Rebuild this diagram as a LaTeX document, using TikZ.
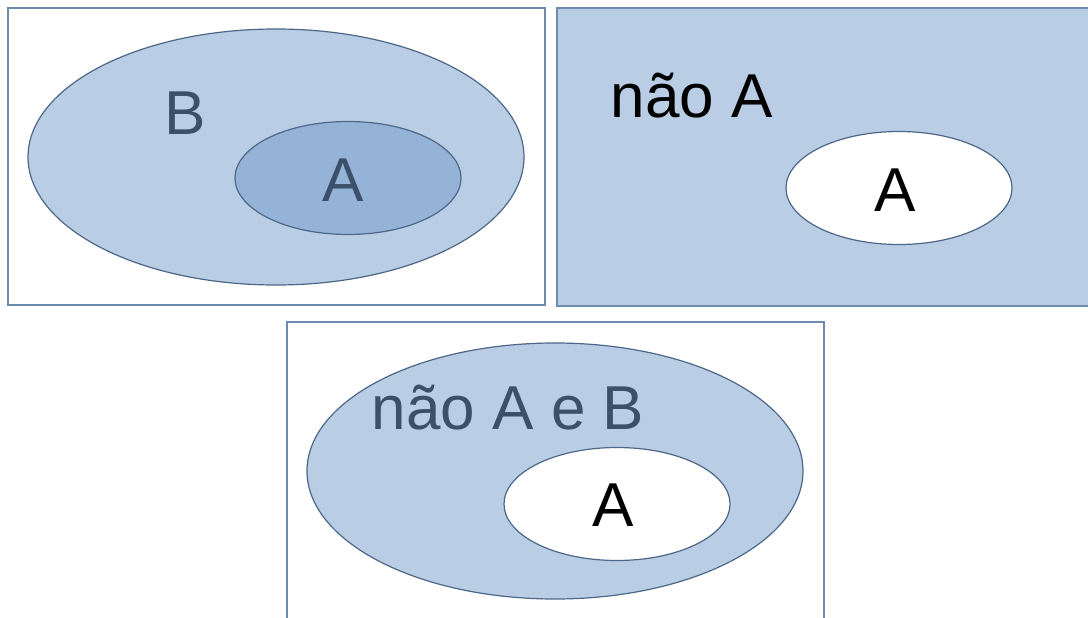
\documentclass[tikz,border=0pt]{standalone}
\usepackage{fontspec}
\setmainfont{Liberation Sans}
\usetikzlibrary{shapes.geometric}
\definecolor{lightfill}{HTML}{B9CDE5}
\definecolor{darkfill}{HTML}{95B3D7}
\definecolor{rectline}{HTML}{6E8CB0}
\definecolor{ellline}{HTML}{4D6788}
\definecolor{slate}{HTML}{3D506A}
\tikzset{
  panel/.style={draw=rectline, line width=1.6pt},
  venn/.style={ellipse, draw=ellline, line width=1.2pt, inner sep=0pt},
  big/.style={venn, minimum width=496pt, minimum height=256pt, fill=lightfill},
  small/.style={venn, minimum width=226pt, minimum height=113pt},
  lbl/.style={font=\fontsize{62}{68}\selectfont, inner sep=0pt},
}
\begin{document}
\begin{tikzpicture}[x=1pt,y=-1pt]
\useasboundingbox (0,0) rectangle (1088,618);
\begin{scope}
\clip (0,0) rectangle (1088,618);
% panel 1
\draw[panel, fill=white] (8,8) rectangle (545,305);
\node[big] (B1) at (276,157) {};
\node[small, fill=darkfill] (A1) at (348,178) {};
\node[lbl, text=slate] (tB1) at (185,113) {B};
\node[lbl, text=slate] (tA1) at (343,180) {A};
% panel 2
\draw[panel, fill=lightfill] (557,8) rectangle (1100,306);
\node[small, fill=white] (A2) at (899,188) {};
\node[lbl, text=black] (tN2) at (692,96) {não A};
\node[lbl, text=black] (tA2) at (895,190) {A};
% panel 3
\draw[panel, fill=white] (287,322) rectangle (824,630);
\node[big] (B3) at (555,471) {};
\node[small, fill=white] (A3) at (617,504) {};
\node[lbl, text=slate] (tN3) at (508,408) {não A e B};
\node[lbl, text=black] (tA3) at (613,505) {A};
\end{scope}
\end{tikzpicture}
\end{document}
